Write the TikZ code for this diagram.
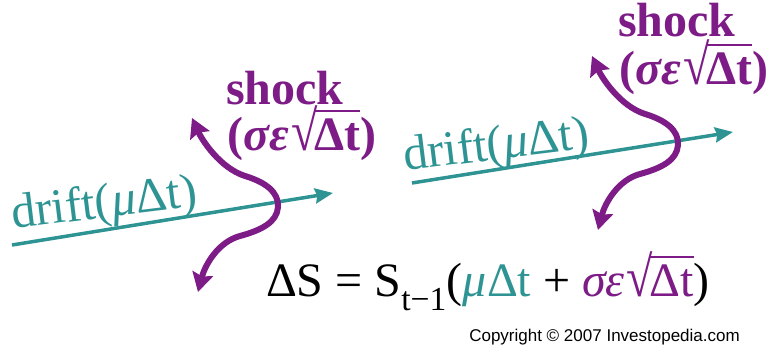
\documentclass[tikz,border=0pt]{standalone}
\usepackage{graphicx}
\usepackage{fontspec}
\setmainfont{Liberation Serif}
\newfontfamily\copyfont{Liberation Sans}
\usetikzlibrary{arrows.meta}
\definecolor{driftTeal}{HTML}{2E9493}
\definecolor{shockPurple}{HTML}{7D1B87}
\newcommand{\rootDt}{\mbox{\kern0.04em\scalebox{1}[1.18]{√}\kern-0.07em\vbox{\hrule height 0.035em\kern0.15em\hbox{Δt}}}}

\begin{document}
\begin{tikzpicture}[x=1pt,y=-1pt,
  driftline/.style={draw=driftTeal,line width=3.5pt,-{Stealth[length=18pt,width=15pt,inset=2pt]}},
  shockline/.style={draw=shockPurple,line width=6pt,{Stealth[length=19pt,width=21pt,inset=3pt]}-{Stealth[length=19pt,width=21pt,inset=3pt]}},
  driftlabel/.style={text=driftTeal,font=\fontsize{49}{49}\selectfont,inner sep=0pt,rotate=7,anchor=base west},
  shocklabel/.style={text=shockPurple,font=\fontsize{48}{48}\selectfont\bfseries,inner sep=0pt,anchor=base},
  eqlabel/.style={font=\fontsize{48}{48}\selectfont,inner sep=0pt,anchor=base},
  copylabel/.style={font=\copyfont\fontsize{17}{17}\selectfont,inner sep=0pt,anchor=base east}]
  \useasboundingbox (0,0) rectangle (779,352);
  % left step
  \coordinate (dL1) at (12,245);
  \coordinate (dL2) at (333,193);
  \coordinate (sL1) at (192,118);
  \coordinate (sL2) at (198,292);
  \draw[driftline] (dL1) -- (dL2);
  \node[driftlabel] (driftL) at (13,229) {drift(\textit{μ}Δt)};
  \draw[shockline] (sL1) .. controls (202,140) and (220,168) .. (245,176)
    .. controls (265,182) and (279,192) .. (278,207)
    .. controls (277,222) and (262,230) .. (240,236)
    .. controls (218,242) and (205,265) .. (sL2);
  \node[shocklabel] (shockL) at (285,105) {shock};
  \node[shocklabel] (sigL) at (302,151) {(\textit{σε}\rootDt)};
  % right step
  \coordinate (dR1) at (412,183);
  \coordinate (dR2) at (733,132);
  \coordinate (sR1) at (592,56);
  \coordinate (sR2) at (598,230);
  \draw[driftline] (dR1) -- (dR2);
  \node[driftlabel] (driftR) at (405,171) {drift(\textit{μ}Δt)};
  \draw[shockline] (sR1) .. controls (602,78) and (620,106) .. (645,114)
    .. controls (665,120) and (679,130) .. (678,145)
    .. controls (677,160) and (662,168) .. (640,174)
    .. controls (618,180) and (605,203) .. (sR2);
  \node[shocklabel] (shockR) at (677,37) {shock};
  \node[shocklabel] (sigR) at (694,85) {(\textit{σε}\rootDt)};
  % formula
  \node[eqlabel] (eq) at (488,297) {ΔS = S\textsubscript{t−1}(\textcolor{driftTeal}{\textit{μ}Δt} + \textcolor{shockPurple}{\textit{σε}\rootDt})};
  \node[copylabel] (copy) at (740,342) {Copyright © 2007 Investopedia.com};
\end{tikzpicture}
\end{document}
